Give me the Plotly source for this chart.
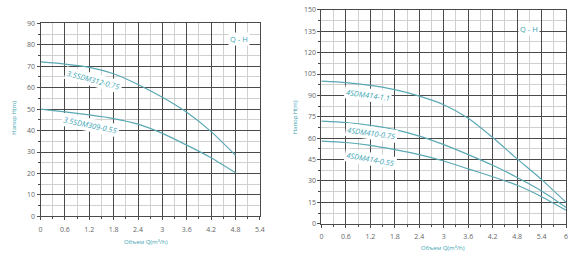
import plotly.graph_objects as go

# ---------------- data ----------------
q_left = [0, 0.6, 1.2, 1.8, 2.4, 3.0, 3.6, 4.2, 4.8]
h_312_075 = [72, 71, 69.5, 66.5, 61.5, 55.5, 48.5, 39.5, 28.5]
h_309_055 = [50, 48.7, 47.3, 45.6, 43, 38.7, 33.2, 27.3, 20.3]

q_right = [0, 0.6, 1.2, 1.8, 2.4, 3.0, 3.6, 4.2, 4.8, 5.4, 6.0]
h_414_11 = [100, 99, 97, 94, 89.5, 83.5, 74, 60.5, 45.5, 31, 15]
h_410_075 = [72, 71, 69, 66, 61.5, 55.5, 48.5, 41, 32.5, 23, 11.5]
h_414_055 = [58, 57, 55, 52, 48.5, 44, 38.5, 33, 27, 19, 9.5]

left_xticks = [0, 0.6, 1.2, 1.8, 2.4, 3, 3.6, 4.2, 4.8, 5.4]
left_yticks = [0, 10, 20, 30, 40, 50, 60, 70, 80, 90]
right_xticks = [0, 0.6, 1.2, 1.8, 2.4, 3, 3.6, 4.2, 4.8, 5.4, 6]
right_yticks = [0, 15, 30, 45, 60, 75, 90, 105, 120, 135, 150]

TEAL = "#3aa3b3"
CURVE = "#5aa9b5"
MAJOR = "#4a4a4a"
MINOR = "#d0d0d0"
TICKC = "#666666"
FONT = "Open Sans"

fig = go.Figure()

def add_curve(x, y, xa, ya):
    fig.add_trace(go.Scatter(x=x, y=y, mode="lines", xaxis=xa, yaxis=ya,
                             line=dict(color=CURVE, width=1.2, shape="spline", smoothing=0.6),
                             showlegend=False, hoverinfo="skip"))

add_curve(q_left, h_312_075, "x", "y")
add_curve(q_left, h_309_055, "x", "y")
add_curve(q_right, h_414_11, "x2", "y2")
add_curve(q_right, h_410_075, "x2", "y2")
add_curve(q_right, h_414_055, "x2", "y2")

W, H = 580, 258

def axis(domain, rng, ticks, minor_d, anchor):
    return dict(domain=domain, range=rng, tickvals=ticks,
                ticktext=[("%g" % t) for t in ticks],
                showgrid=True, gridcolor=MAJOR, gridwidth=1,
                minor=dict(dtick=minor_d, tick0=0, showgrid=True, gridcolor=MINOR,
                           gridwidth=1, ticks="outside", ticklen=2, tickcolor=MAJOR),
                showline=True, linecolor=MAJOR, linewidth=1, mirror=True,
                ticks="outside", ticklen=3, tickcolor=MAJOR,
                tickfont=dict(family=FONT, size=7, color=TICKC),
                zeroline=False, anchor=anchor, fixedrange=True)

fig.update_layout(
    width=W, height=H,
    margin=dict(l=0, r=0, t=0, b=0),
    paper_bgcolor="white", plot_bgcolor="white",
    xaxis=axis([39 / W, 261 / W], [0, 5.4], left_xticks, 0.3, "y"),
    yaxis=axis([39 / H, 239 / H], [0, 90], left_yticks, 5, "x"),
    xaxis2=axis([323.3 / W, 571 / W], [0, 6], right_xticks, 0.3, "y2"),
    yaxis2=axis([31.3 / H, 253 / H], [0, 150], right_yticks, 7.5, "x2"),
)
fig.update_xaxes(ticklabelstandoff=3)

ann = []
def label(text, x, y, xref, yref, angle, size=7.5):
    ann.append(dict(text=text, x=x, y=y, xref=xref, yref=yref, showarrow=False,
                    textangle=angle, bgcolor="white", borderpad=1,
                    font=dict(family=FONT, size=size, color=TEAL)))

label("<i>3.5SDM312-0.75</i>", 1.31, 63.5, "x", "y", 15)
label("<i>3.5SDM309-0.55</i>", 1.22, 42.8, "x", "y", 12)
label("Q - H", 4.89, 82.9, "x", "y", 0, 7.5)
label("<i>4SDM414-1.1</i>", 1.15, 90.5, "x2", "y2", 8)
label("<i>4SDM410-0.75</i>", 1.22, 63.4, "x2", "y2", 8)
label("<i>4SDM414-0.55</i>", 1.2, 45.1, "x2", "y2", 10)
label("Q - H", 5.08, 136.5, "x2", "y2", 0, 7.5)

def title(text, px, py, angle=0):
    ann.append(dict(text=text, x=px / W, y=1 - py / H, xref="paper", yref="paper",
                    xanchor="center", yanchor="middle",
                    showarrow=False, textangle=angle,
                    font=dict(family=FONT, size=6, color=TEAL)))

title("Напор H(m)", 12, 117, -90)
title("Объем Q(m³/h)", 146, 246)
title("Напор H(m)", 297, 116, -90)
title("Объем Q(m³/h)", 446, 252)

fig.update_layout(annotations=ann)
fig.write_html("out.html")
